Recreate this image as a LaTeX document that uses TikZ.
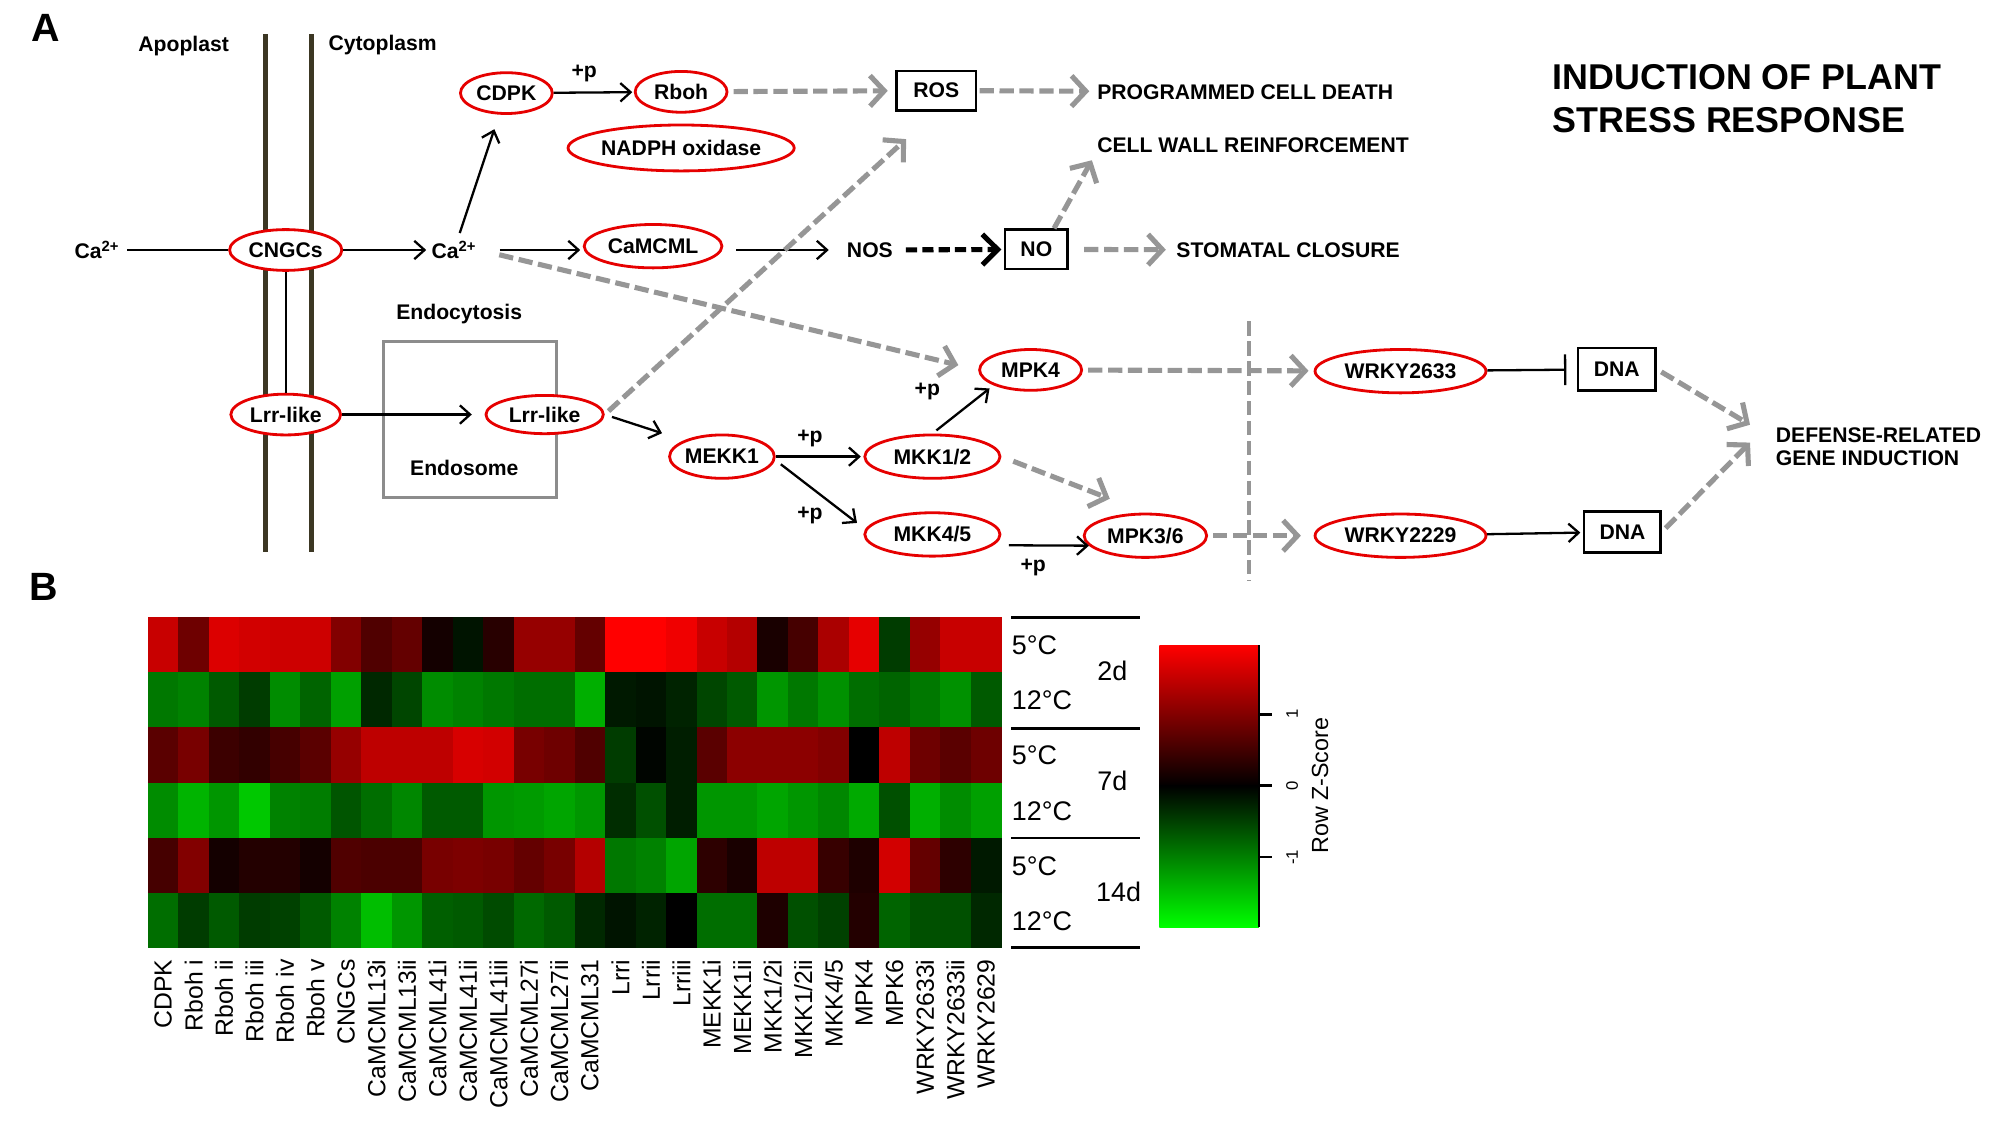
\documentclass[tikz,border=0pt]{standalone}
\usepackage{fontspec}
\setmainfont{Liberation Sans}
\usetikzlibrary{arrows.meta,shapes.geometric}
\definecolor{Red1}{RGB}{230,0,0}
\definecolor{Gray1}{RGB}{150,150,150}
\definecolor{Gray2}{RGB}{140,140,140}
\definecolor{Membrane}{RGB}{60,55,35}
\newcommand\lblfont{\fontsize{11.8}{13}\selectfont\bfseries}
\tikzset{
  protein/.style={ellipse,draw=Red1,line width=0.55mm,fill=white,inner sep=0pt,font=\lblfont},
  molbox/.style={rectangle,draw,line width=0.5mm,fill=white,inner sep=0pt,font=\lblfont},
  lbl/.style={inner sep=0.5mm,font=\lblfont},
  blk/.style={line width=0.45mm,-{Straight Barb[length=2mm,width=3.6mm]}},
  gry/.style={Gray1,line width=1mm,dash pattern=on 2.8mm off 1.1mm,-{Straight Barb[length=2.8mm,width=6mm]}},
  nosarrow/.style={line width=1mm,dash pattern=on 2.2mm off 1mm,-{Straight Barb[length=3mm,width=6mm]}},
}

\begin{document}
\begin{tikzpicture}[x=0.25mm,y=-0.25mm]
		\useasboundingbox (0,0) rectangle (1568,884);
		% panel letters
		\node[font=\fontsize{22}{24}\selectfont\bfseries] (panA) at (36,22) {A};
		\node[font=\fontsize{22}{24}\selectfont\bfseries] (panB) at (34,460) {B};

		% membrane
		\draw[Membrane,line width=0.9mm] (208,27) -- (208,433);
		\draw[Membrane,line width=0.9mm] (244,27) -- (244,433);
		\node[lbl] (apo) at (144,36) {Apoplast};
		\node[lbl] (cyto) at (300,35) {Cytoplasm};

		% endosome
		\draw[Gray2,line width=0.6mm] (301,268) rectangle (436,390);
		\node[lbl] (endo) at (360,246) {Endocytosis};
		\node[lbl] (endsm) at (364,367) {Endosome};

		% proteins
		\node[protein,minimum width=22mm,minimum height=8mm] (cngc) at (224,196) {CNGCs};
		\node[protein,minimum width=21.5mm,minimum height=8mm] (lrra) at (224,325) {Lrr-like};
		\node[protein,minimum width=23mm,minimum height=7.5mm] (lrrb) at (427,325) {Lrr-like};
		\node[protein,minimum width=18mm,minimum height=8mm] (cdpk) at (397,73) {CDPK};
		\node[protein,minimum width=18mm,minimum height=8mm] (rboh) at (534,72) {Rboh};
		\node[protein,minimum width=39.5mm,minimum height=9mm] (nadph) at (534,116) {NADPH oxidase};
		\node[protein,minimum width=27mm,minimum height=8.5mm] (camcml) at (512,193) {CaMCML};
		\node[protein,minimum width=20mm,minimum height=8.5mm] (mekk) at (566,358) {MEKK1};
		\node[protein,minimum width=26.5mm,minimum height=8.5mm] (mkka) at (731,358) {MKK1/2};
		\node[protein,minimum width=26.5mm,minimum height=8.5mm] (mkkb) at (731,419) {MKK4/5};
		\node[protein,minimum width=20mm,minimum height=8mm] (mpka) at (808,290) {MPK4};
		\node[protein,minimum width=24mm,minimum height=8.5mm] (mpkb) at (898,420) {MPK3/6};
		\node[protein,minimum width=33.5mm,minimum height=8.5mm] (wrkya) at (1098,291) {WRKY2633};
		\node[protein,minimum width=33.5mm,minimum height=8.5mm] (wrkyb) at (1098,420) {WRKY2229};

		% boxes
		\node[molbox,minimum width=15.5mm,minimum height=7.75mm] (ros) at (734,71) {ROS};
		\node[molbox,minimum width=12.25mm,minimum height=7.75mm] (no) at (812.5,195.5) {NO};
		\node[molbox,minimum width=15.25mm,minimum height=8.25mm] (dnaa) at (1267.5,289.5) {DNA};
		\node[molbox,minimum width=15mm,minimum height=8mm] (dnab) at (1272,417) {DNA};

		% other labels
		\node[lbl] (caa) at (76,196) {Ca\textsuperscript{2+}};
		\node[lbl] (cab) at (356,196) {Ca\textsuperscript{2+}};
		\node[lbl] (nos) at (682,196) {NOS};
		\node[lbl,anchor=west] (pcd) at (858,72) {PROGRAMMED CELL DEATH};
		\node[lbl,anchor=west] (cwr) at (858,114) {CELL WALL REINFORCEMENT};
		\node[lbl,anchor=west] (stom) at (920,196) {STOMATAL CLOSURE};
		\node[lbl,anchor=west,align=left] (defense) at (1390,350) {DEFENSE-RELATED\\GENE INDUCTION};
		\node[anchor=west,align=left,inner sep=0pt,font=\fontsize{20}{24}\selectfont\bfseries] (title) at (1217,77) {INDUCTION OF PLANT\\STRESS RESPONSE};
		\node[lbl] (pa) at (458,58) {+p};
		\node[lbl] (pb) at (635,344) {+p};
		\node[lbl] (pc) at (635,404) {+p};
		\node[lbl] (pd) at (727,307) {+p};
		\node[lbl] (pe) at (810,445) {+p};

		% connectors
		\draw[line width=0.45mm,shorten <=1mm] (caa) -- (cngc);
		\draw[blk,shorten >=0.5mm] (cngc) -- (cab);
		\draw[blk,shorten <=1mm,shorten >=3mm] (cab) -- (cdpk);
		\draw[blk,shorten >=0.3mm] (cdpk) -- (rboh);
		\draw[gry,shorten <=1mm,shorten >=1.5mm] (rboh) -- (ros);
		\draw[gry,shorten <=0.5mm,shorten >=1mm] (ros) -- (pcd);
		\draw[blk,shorten <=4mm,shorten >=0.5mm] (cab.east) -- (cab.east -| camcml.west);
		\draw[blk,shorten <=2.5mm,shorten >=3mm] (camcml.east |- nos) -- (nos);
		\draw[nosarrow,shorten <=2mm,shorten >=0.5mm] (nos) -- (no);
		\draw[gry,shorten <=3mm,shorten >=1.5mm] (no) -- (stom);
		\draw[gry,shorten >=1mm] (no.50) -- (cwr.south west);
		\draw[gry,shorten <=4mm,shorten >=4mm] (cab.east) -- (mpka.west);
		\draw[gry,shorten <=1mm,shorten >=8mm] (lrrb.east) -- (ros.south);
		\draw[line width=0.45mm] (cngc) -- (lrra);
		\draw[blk,shorten >=2.5mm] (lrra) -- (lrrb);
		\draw[blk,shorten <=1.5mm,shorten >=4.5mm] (lrrb.east) -- (mekk.north west);
		\draw[blk,shorten >=0.5mm] (mekk) -- (mkka);
		\draw[blk] ([shift={(4,6)}]mekk.east) -- ([shift={(-5,-9)}]mkkb.west);
		\draw[blk,shorten <=1mm,shorten >=1mm] (mkka.north) -- (mpka.south west);
		\draw[gry,shorten <=2.5mm,shorten >=7.5mm] (mkka.east) -- (mpkb.north);
		\draw[blk,shorten <=3mm] (mkkb.-10) -- (mpkb.190);
		\draw[gry,shorten <=1mm,shorten >=1mm] (mpka) -- (wrkya);
		\draw[gry,shorten <=1mm,shorten >=2.5mm] (mpkb) -- (wrkyb);
		\draw[line width=0.45mm,-{Bar[width=6mm]},shorten >=2mm] (wrkya) -- (dnaa);
		\draw[blk,shorten >=0.5mm] (wrkyb) -- (dnab);
		\draw[gry,shorten <=1mm] (dnaa.east) -- ([shift={(-18,-17)}]defense.west);
		\draw[gry,shorten <=1mm] (dnab.east) -- ([shift={(-18,-3)}]defense.west);
		% nucleus border
		\draw[Gray1,line width=0.8mm,dash pattern=on 2.8mm off 1.1mm] (979,252) -- (979,455);

		% heatmap
		\foreach \rowvals [count=\j from 0] in {
			{200,110,220,210,205,205,130,80,100,20,-20,40,150,150,100,255,255,240,200,180,25,70,170,230,-60,150,200,200},
			{-120,-130,-90,-60,-140,-100,-160,-40,-70,-140,-130,-120,-110,-110,-175,-25,-20,-35,-70,-90,-150,-120,-145,-110,-100,-120,-145,-90},
			{90,120,60,50,70,90,150,190,190,190,215,210,120,110,80,-60,-5,-30,90,140,140,140,130,0,190,110,90,110},
			{-140,-180,-150,-200,-130,-125,-85,-110,-135,-90,-90,-150,-155,-165,-150,-45,-80,-30,-150,-150,-165,-150,-135,-170,-80,-175,-140,-160},
			{70,130,20,35,35,20,80,75,75,120,125,120,100,120,180,-120,-130,-165,45,25,190,190,55,30,210,100,45,-25},
			{-110,-60,-90,-60,-65,-90,-130,-190,-150,-95,-90,-75,-105,-90,-40,-20,-35,0,-110,-110,30,-80,-65,35,-100,-80,-80,-40}} {
			\foreach \v [count=\i from 0] in \rowvals {
				\pgfmathsetmacro\rr{max(\v,0)/255}
				\pgfmathsetmacro\gg{max(0-(\v),0)/255}
				\definecolor{cellcol}{rgb}{\rr,\gg,0}
				\fill[cellcol] ({116+\i*23.893},{484+\j*43.17}) rectangle ({116.6+(\i+1)*23.893},{484.6+(\j+1)*43.17});
			}
		}
		\foreach \lab [count=\i from 0] in {CDPK,Rboh i,Rboh ii,Rboh iii,Rboh iv,Rboh v,CNGCs,CaMCML13i,CaMCML13ii,CaMCML41i,CaMCML41ii,CaMCML41iii,CaMCML27i,CaMCML27ii,CaMCML31,Lrri,Lrrii,Lrriii,MEKK1i,MEKK1ii,MKK1/2i,MKK1/2ii,MKK4/5,MPK4,MPK6,WRKY2633i,WRKY2633ii,WRKY2629}
			\node[rotate=90,anchor=east,inner sep=0pt,font=\fontsize{13.8}{15}\selectfont] (clab\i) at ({116+(\i+0.5)*23.893},752) {\lab};

		% row labels
		\foreach \yy in {484,571,657,743}
			\draw[line width=0.5mm] (793,\yy) -- (894,\yy);
		\foreach \t/\yy [count=\k] in {5°C/506,12°C/549,5°C/592,12°C/636,5°C/679,12°C/722}
			\node[anchor=west,inner sep=0pt,font=\fontsize{15}{16}\selectfont] (rlab\k) at (793,\yy) {\t};
		\node[font=\fontsize{15}{16}\selectfont,inner sep=0pt] (d2) at (872,526) {2d};
		\node[font=\fontsize{15}{16}\selectfont,inner sep=0pt] (d7) at (872,612) {7d};
		\node[font=\fontsize{15}{16}\selectfont,inner sep=0pt] (d14) at (877,699) {14d};

		% color key
		\shade[top color=red,bottom color=black] (909,506) rectangle (987,616.5);
		\shade[top color=black,bottom color=green] (909,616) rectangle (987,727);
		\draw[line width=0.5mm] (987,506) -- (987,727);
		\foreach \yy/\t in {560/1,616/0,672/-1} {
			\draw[line width=0.5mm] (987,\yy) -- (997,\yy);
			\node[rotate=90,inner sep=0pt,font=\fontsize{9.3}{10}\selectfont] at (1013,\yy) {\t};
		}
		\node[rotate=90,inner sep=0pt,font=\fontsize{13}{14}\selectfont] (zkey) at (1035,616) {Row Z-Score};
\end{tikzpicture}
\end{document}
